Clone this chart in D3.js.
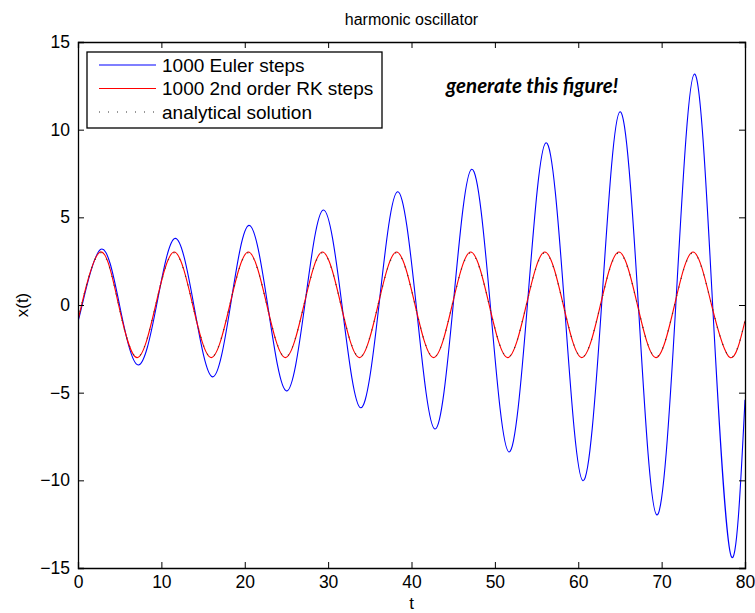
<!DOCTYPE html>
<html>
<head>
<meta charset="utf-8">
<script src="https://cdn.jsdelivr.net/npm/d3@7"></script>
<style>
  body { margin: 0; background: #fff; }
  svg text { font-family: "Liberation Sans", Arial, Helvetica, sans-serif; }
</style>
</head>
<body>
<div id="chart"></div>
<script>
// values: peaks, troughs and zero crossings of each curve
const tEuler = [0, 0.5, 2.75, 4.98, 7.22, 9.43, 11.65, 13.89, 16.13, 18.3, 20.5, 22.75, 25.0, 27.2,
  29.42, 31.66, 33.9, 36.1, 38.32, 40.56, 42.8, 45.0, 47.22, 49.45, 51.68, 53.9, 56.13, 58.35,
  60.56, 62.8, 65.0, 67.21, 69.42, 71.7, 73.93, 76.12, 78.32, 80];
const xEuler = [-0.85, 0, 3.18, 0, -3.42, 0, 3.8, 0, -4.1, 0, 4.54, 0, -4.9, 0,
  5.42, 0, -5.86, 0, 6.46, 0, -7.07, 0, 7.74, 0, -8.38, 0, 9.25, 0,
  -10.02, 0, 11.02, 0, -11.97, 0, 13.17, 0, -14.3, -5.4];

const tRK = [0, 0.43, 2.65, 4.87, 7.1, 9.32, 11.54, 13.76, 15.98, 18.21, 20.43, 22.65, 24.87, 27.1,
  29.32, 31.54, 33.76, 35.99, 38.21, 40.43, 42.65, 44.88, 47.1, 49.32, 51.54, 53.77, 55.99, 58.21,
  60.43, 62.66, 64.88, 67.1, 69.32, 71.55, 73.77, 75.99, 78.21, 80];
const xRK = [-0.85, 0, 3.02, 0, -3.0, 0, 3.02, 0, -3.0, 0, 3.02, 0, -3.0, 0,
  3.02, 0, -3.0, 0, 3.02, 0, -3.0, 0, 3.02, 0, -3.0, 0, 3.02, 0,
  -3.0, 0, 3.02, 0, -3.0, 0, 3.02, 0, -3.0, -0.9];

const tExact = tRK;
const xExact = [-0.85, 0, 2.97, 0, -2.97, 0, 2.97, 0, -2.97, 0, 2.97, 0, -2.97, 0,
  2.97, 0, -2.97, 0, 2.97, 0, -2.97, 0, 2.97, 0, -2.97, 0, 2.97, 0,
  -2.97, 0, 2.97, 0, -2.97, 0, 2.97, 0, -2.97, -0.9];

const xTicks = [0, 10, 20, 30, 40, 50, 60, 70, 80];
const yTicks = [-15, -10, -5, 0, 5, 10, 15];

const series = [
  { name: "1000 Euler steps", t: tEuler, x: xEuler, color: "#0000ff", dash: null },
  { name: "1000 2nd order RK steps", t: tRK, x: xRK, color: "#ff0000", dash: null },
  { name: "analytical solution", t: tExact, x: xExact, color: "#333333", dash: "1,8" }
];

const width = 755, height = 613;
const margin = { top: 42, right: 10, bottom: 45, left: 78 };

const xScale = d3.scaleLinear().domain([0, 80]).range([margin.left, width - margin.right]);
const yScale = d3.scaleLinear().domain([-15, 15]).range([height - margin.bottom, margin.top]);

const svg = d3.select("#chart").append("svg")
  .attr("width", width)
  .attr("height", height);

svg.append("defs").append("clipPath").attr("id", "clip")
  .append("rect")
  .attr("x", margin.left).attr("y", margin.top)
  .attr("width", xScale(80) - xScale(0))
  .attr("height", yScale(-15) - yScale(15));

// curves
const line = d3.line()
  .x(d => xScale(d[0]))
  .y(d => yScale(d[1]))
  .curve(d3.curveNatural);

svg.append("g").attr("clip-path", "url(#clip)")
  .selectAll("path")
  .data(series)
  .join("path")
  .attr("d", s => line(s.t.map((t, i) => [t, s.x[i]])))
  .attr("fill", "none")
  .attr("stroke", s => s.color)
  .attr("stroke-width", s => s.dash ? 1.2 : 1.1)
  .attr("stroke-dasharray", s => s.dash);

// axes, ticks pointing inwards like matlab
const fmt = d3.format("d");
const axBottom = svg.append("g")
  .attr("transform", `translate(0,${yScale(-15)})`)
  .call(d3.axisBottom(xScale).tickValues(xTicks).tickFormat(fmt).tickSize(-6).tickPadding(8));
const axTop = svg.append("g")
  .attr("transform", `translate(0,${yScale(15)})`)
  .call(d3.axisTop(xScale).tickValues(xTicks).tickFormat("").tickSize(-6));
const axLeft = svg.append("g")
  .attr("transform", `translate(${xScale(0)},0)`)
  .call(d3.axisLeft(yScale).tickValues(yTicks).tickFormat(fmt).tickSize(-6).tickPadding(8));
const axRight = svg.append("g")
  .attr("transform", `translate(${xScale(80)},0)`)
  .call(d3.axisRight(yScale).tickValues(yTicks).tickFormat("").tickSize(-6));

[axBottom, axTop, axLeft, axRight].forEach(g => {
  g.selectAll(".domain").attr("stroke", "#000").attr("stroke-width", 1.3);
  g.selectAll(".tick line").attr("stroke", "#000");
  g.selectAll(".tick text")
    .attr("fill", "#000")
    .style("font-size", "17.5px");
});

// titles
svg.append("text")
  .attr("x", (xScale(0) + xScale(80)) / 2)
  .attr("y", 25)
  .attr("text-anchor", "middle")
  .style("font-size", "16px")
  .text("harmonic oscillator");

svg.append("text")
  .attr("x", (xScale(0) + xScale(80)) / 2)
  .attr("y", 609)
  .attr("text-anchor", "middle")
  .style("font-size", "17px")
  .text("t");

svg.append("text")
  .attr("transform", `translate(28,${yScale(0)}) rotate(-90)`)
  .attr("text-anchor", "middle")
  .style("font-size", "17px")
  .text("x(t)");

// legend
const legend = svg.append("g");
legend.append("rect")
  .attr("x", 87).attr("y", 52)
  .attr("width", 295).attr("height", 76)
  .attr("fill", "#fff")
  .attr("stroke", "#000")
  .attr("stroke-width", 1.3);

const rows = legend.selectAll("g.row")
  .data(series)
  .join("g")
  .attr("class", "row")
  .attr("transform", (d, i) => `translate(0,${65 + i * 23.5})`);

rows.append("line")
  .attr("x1", 99).attr("x2", 156)
  .attr("stroke", d => d.color)
  .attr("stroke-width", d => d.dash ? 1.2 : 1.1)
  .attr("stroke-dasharray", d => d.dash);

rows.append("text")
  .attr("x", 162)
  .attr("dy", "0.35em")
  .style("font-size", "19px")
  .text(d => d.name);

// annotation
svg.append("text")
  .attr("x", 446)
  .attr("y", 93)
  .style("font-family", "Lato, 'Open Sans', sans-serif")
  .style("font-weight", "bold")
  .style("font-style", "italic")
  .style("font-size", "20.5px")
  .text("generate this figure!");
</script>
</body>
</html>
